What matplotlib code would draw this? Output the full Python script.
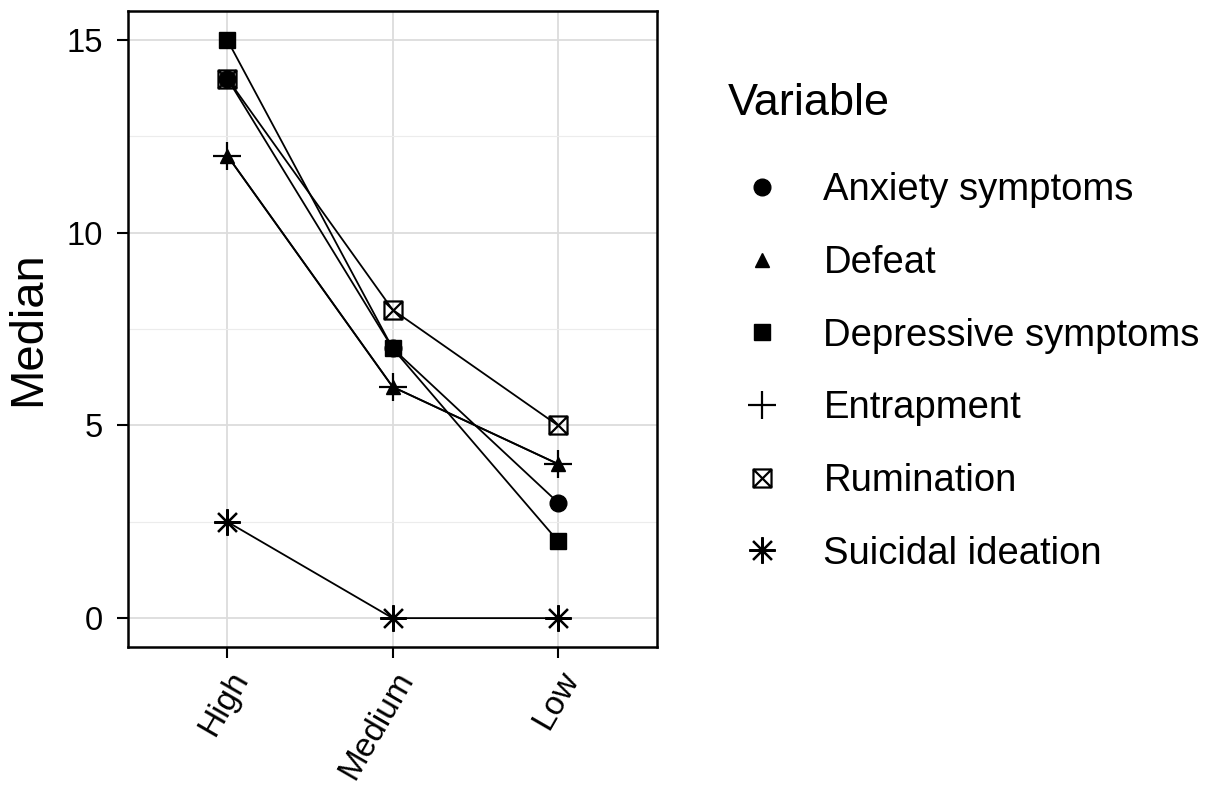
import numpy as np
import matplotlib
matplotlib.use("Agg")
import matplotlib.pyplot as plt
from matplotlib.path import Path
from matplotlib.lines import Line2D

plt.rcParams['font.family'] = ['Liberation Sans', 'DejaVu Sans']

# Data
levels = ["High", "Medium", "Low"]
variables = ["Anxiety symptoms", "Defeat", "Depressive symptoms",
             "Entrapment", "Rumination", "Suicidal ideation"]
anxiety = [14, 7, 3]
defeat = [12, 6, 4]
depressive = [15, 7, 2]
entrapment = [12, 6, 4]
rumination = [14, 8, 5]
suicidal = [2.5, 0, 0]
y_ticks = [0, 5, 10, 15]

# square with a cross inside (R pch 7)
box_x = Path([(-1, -1), (1, -1), (1, 1), (-1, 1), (-1, -1),
              (-1, -1), (1, 1), (-1, 1), (1, -1)],
             [Path.MOVETO, Path.LINETO, Path.LINETO, Path.LINETO, Path.CLOSEPOLY,
              Path.MOVETO, Path.LINETO, Path.MOVETO, Path.LINETO])

styles = [
    dict(marker='o', ms=12, mfc='black', mec='black'),
    dict(marker='^', ms=10, mfc='black', mec='black'),
    dict(marker='s', ms=12, mfc='black', mec='black'),
    dict(marker='+', ms=20, mew=1.6, mec='black'),
    dict(marker=box_x, ms=13, mfc='none', mec='black', mew=1.6),
    dict(marker=(8, 2, 0), ms=19, mew=1.6, mec='black'),
]
series = [anxiety, defeat, depressive, entrapment, rumination, suicidal]

fig = plt.figure(figsize=(12.32, 7.91), dpi=100)
ax = fig.add_axes([0.104, 0.182, 0.4294, 0.804])

x = np.arange(len(levels))
for vals, st in zip(series, styles):
    ax.plot(x, vals, color='black', lw=1.3, zorder=3, **st)

ax.set_xlim(-0.6, 2.6)
ax.set_ylim(-0.75, 15.75)
ax.set_xticks(x)
ax.set_xticklabels(levels, rotation=60, ha='right', va='top',
                   rotation_mode='anchor', fontsize=24)
ax.set_yticks(y_ticks)
ax.set_yticklabels([str(v) for v in y_ticks], fontsize=23.5)
ax.set_yticks([2.5, 7.5, 12.5], minor=True)
ax.tick_params(axis='both', which='major', direction='out', length=8,
               width=1.5, color='black')
ax.tick_params(axis='y', which='major', pad=10)
ax.tick_params(axis='x', which='major', pad=6)
ax.tick_params(axis='y', which='minor', length=0)
ax.grid(True, which='major', color='#dcdcdc', lw=1.3, zorder=0)
ax.grid(True, which='minor', axis='y', color='#ececec', lw=0.8, zorder=0)
for s in ax.spines.values():
    s.set_linewidth(1.8)
    s.set_color('black')
ax.set_ylabel("Median", fontsize=34, labelpad=12)

handles = [Line2D([], [], linestyle='none', color='black', **st) for st in styles]
leg = fig.legend(handles, variables, loc='upper left',
                 bbox_to_anchor=(0.563, 0.939), frameon=False,
                 fontsize=27.5, title="Variable", title_fontsize=32.5,
                 handlelength=1.8, handletextpad=0.7, labelspacing=0.96,
                 alignment='left')
leg._legend_box.sep = 35

fig.savefig("out.png", dpi=100)
